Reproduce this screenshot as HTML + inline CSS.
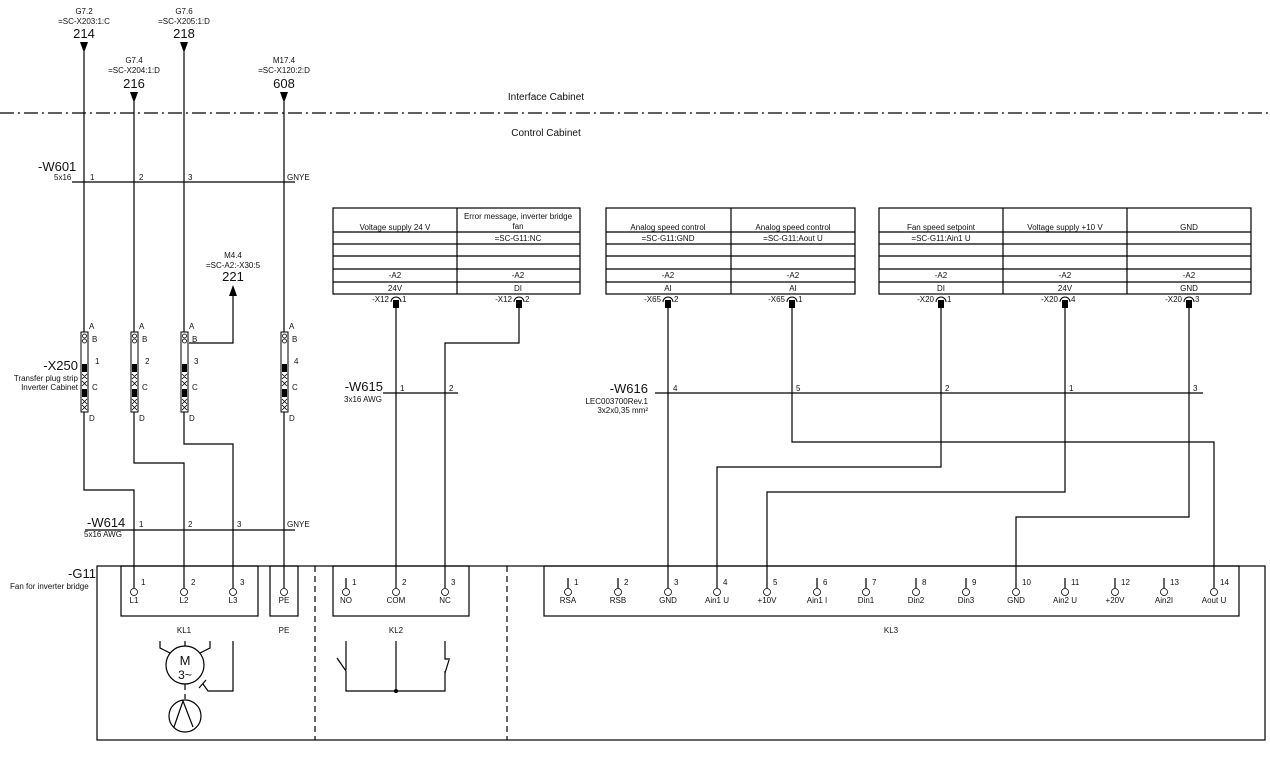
<!DOCTYPE html>
<html><head><meta charset="utf-8"><style>
html,body{margin:0;padding:0;background:#fff;}
svg{display:block;font-family:"Liberation Sans",sans-serif;}
text{fill:#111;}
.s{font-size:8px;}
.m{font-size:10px;}
.l{font-size:13px;}
</style></head><body>
<svg width="1270" height="765" viewBox="0 0 1270 765" xmlns="http://www.w3.org/2000/svg">
<g stroke="#000" stroke-width="1.2" fill="none">
<line x1="0" y1="113" x2="1270" y2="113" stroke-dasharray="14,4,2,4"/>
<polyline points="84,52 84,490 134,490 134,588"/>
<polyline points="134,102 134,463 184,463 184,588"/>
<polyline points="184,52 184,444 233,444 233,588"/>
<line x1="284" y1="102" x2="284" y2="588"/>
<polyline points="189,343 233,343 233,290"/>
<line x1="72" y1="182" x2="295" y2="182"/>
<line x1="85" y1="530" x2="295" y2="530"/>
<line x1="383" y1="393" x2="458" y2="393"/>
<line x1="655" y1="393" x2="1203" y2="393"/>
<line x1="396" y1="305" x2="396" y2="588"/>
<polyline points="519,305 519,343 445,343 445,588"/>
<line x1="668" y1="305" x2="668" y2="588"/>
<polyline points="792,305 792,442 1214,442 1214,588"/>
<polyline points="941,305 941,467 717,467 717,588"/>
<polyline points="1065,305 1065,492 767,492 767,588"/>
<polyline points="1189,305 1189,517 1016,517 1016,588"/>
<rect x="333" y="208" width="247" height="86"/>
<line x1="457" y1="208" x2="457" y2="294"/>
<rect x="606" y="208" width="249" height="86"/>
<line x1="731" y1="208" x2="731" y2="294"/>
<rect x="879" y="208" width="372" height="86"/>
<line x1="1003" y1="208" x2="1003" y2="294"/>
<line x1="1127" y1="208" x2="1127" y2="294"/>
<g>
<line x1="333" y1="232" x2="580" y2="232"/><line x1="333" y1="244" x2="580" y2="244"/><line x1="333" y1="256" x2="580" y2="256"/><line x1="333" y1="269" x2="580" y2="269"/><line x1="333" y1="282" x2="580" y2="282"/>
<line x1="606" y1="232" x2="855" y2="232"/><line x1="606" y1="244" x2="855" y2="244"/><line x1="606" y1="256" x2="855" y2="256"/><line x1="606" y1="269" x2="855" y2="269"/><line x1="606" y1="282" x2="855" y2="282"/>
<line x1="879" y1="232" x2="1251" y2="232"/><line x1="879" y1="244" x2="1251" y2="244"/><line x1="879" y1="256" x2="1251" y2="256"/><line x1="879" y1="269" x2="1251" y2="269"/><line x1="879" y1="282" x2="1251" y2="282"/>
</g>
<rect x="97" y="566" width="1168" height="174"/>
<rect x="121" y="566" width="137" height="50"/>
<rect x="270" y="566" width="28" height="50"/>
<rect x="333" y="566" width="136" height="50"/>
<rect x="544" y="566" width="695" height="50"/>
<line x1="315" y1="566" x2="315" y2="740" stroke-dasharray="6,4"/>
<line x1="507" y1="566" x2="507" y2="740" stroke-dasharray="6,4"/>
<line x1="346" y1="578" x2="346" y2="588"/>
<line x1="568" y1="578" x2="568" y2="588"/><line x1="618" y1="578" x2="618" y2="588"/>
<line x1="817" y1="578" x2="817" y2="588"/><line x1="866" y1="578" x2="866" y2="588"/>
<line x1="916" y1="578" x2="916" y2="588"/><line x1="966" y1="578" x2="966" y2="588"/>
<line x1="1065" y1="578" x2="1065" y2="588"/><line x1="1115" y1="578" x2="1115" y2="588"/>
<line x1="1164" y1="578" x2="1164" y2="588"/>
<circle cx="185" cy="665" r="19"/>
<line x1="185" y1="641" x2="185" y2="646"/>
<polyline points="160,641 160,648 170,653"/>
<polyline points="210,641 210,648 200,653"/>
<line x1="185" y1="684" x2="185" y2="690" />
<line x1="185" y1="694" x2="185" y2="699"/>
<circle cx="185" cy="716" r="16"/>
<polyline points="174,727 183,701 193,727"/>
<polyline points="233,641 233,691 208,691 203,684"/>
<line x1="199" y1="688" x2="206" y2="680"/>
<polyline points="346,641 346,670"/>
<line x1="337" y1="658" x2="346" y2="671"/>
<polyline points="346,671 346,691 445,691 445,671"/>
<line x1="396" y1="641" x2="396" y2="691"/>
<polyline points="445,641 445,659 450,659"/>
<line x1="449" y1="660" x2="445" y2="673"/>
</g>
<circle cx="396" cy="691" r="2" fill="#000"/>
<g fill="#000">
<polygon points="80,42 88,42 84,53"/>
<polygon points="130,92 138,92 134,103"/>
<polygon points="180,42 188,42 184,53"/>
<polygon points="280,92 288,92 284,103"/>
<polygon points="229,296 237,296 233,285"/>
</g>
<g stroke="#000" stroke-width="1" fill="#fff">
<rect x="81" y="332" width="7" height="80"/>
<rect x="131" y="332" width="7" height="80"/>
<rect x="181" y="332" width="7" height="80"/>
<rect x="281" y="332" width="7" height="80"/>
</g>
<g stroke="#000" stroke-width="0.8" fill="none">
<circle cx="84.5" cy="336" r="2"/><circle cx="84.5" cy="341" r="2"/>
<circle cx="134.5" cy="336" r="2"/><circle cx="134.5" cy="341" r="2"/>
<circle cx="184.5" cy="336" r="2"/><circle cx="184.5" cy="341" r="2"/>
<circle cx="284.5" cy="336" r="2"/><circle cx="284.5" cy="341" r="2"/>
<path d="M82,374 l5,5 M87,374 l-5,5 M82,381 l5,5 M87,381 l-5,5 M82,399 l5,5 M87,399 l-5,5 M82,405 l5,5 M87,405 l-5,5"/>
<path d="M132,374 l5,5 M137,374 l-5,5 M132,381 l5,5 M137,381 l-5,5 M132,399 l5,5 M137,399 l-5,5 M132,405 l5,5 M137,405 l-5,5"/>
<path d="M182,374 l5,5 M187,374 l-5,5 M182,381 l5,5 M187,381 l-5,5 M182,399 l5,5 M187,399 l-5,5 M182,405 l5,5 M187,405 l-5,5"/>
<path d="M282,374 l5,5 M287,374 l-5,5 M282,381 l5,5 M287,381 l-5,5 M282,399 l5,5 M287,399 l-5,5 M282,405 l5,5 M287,405 l-5,5"/>
</g>
<g fill="#000">
<rect x="82" y="364" width="5" height="8"/><rect x="82" y="389" width="5" height="8"/>
<rect x="132" y="364" width="5" height="8"/><rect x="132" y="389" width="5" height="8"/>
<rect x="182" y="364" width="5" height="8"/><rect x="182" y="389" width="5" height="8"/>
<rect x="282" y="364" width="5" height="8"/><rect x="282" y="389" width="5" height="8"/>
</g>
<g fill="#000">
<rect x="393" y="300" width="6" height="8"/><rect x="516" y="300" width="6" height="8"/>
<rect x="665" y="300" width="6" height="8"/><rect x="789" y="300" width="6" height="8"/>
<rect x="938" y="300" width="6" height="8"/><rect x="1062" y="300" width="6" height="8"/><rect x="1186" y="300" width="6" height="8"/>
</g>
<g stroke="#000" stroke-width="1" fill="none">
<path d="M391,302 a5,5 0 0 1 10,0"/><path d="M514,302 a5,5 0 0 1 10,0"/>
<path d="M663,302 a5,5 0 0 1 10,0"/><path d="M787,302 a5,5 0 0 1 10,0"/>
<path d="M936,302 a5,5 0 0 1 10,0"/><path d="M1060,302 a5,5 0 0 1 10,0"/><path d="M1184,302 a5,5 0 0 1 10,0"/>
</g>
<g stroke="#000" stroke-width="0.8" fill="#fff">
<circle cx="134" cy="592" r="3.5"/><circle cx="184" cy="592" r="3.5"/><circle cx="233" cy="592" r="3.5"/><circle cx="284" cy="592" r="3.5"/>
<circle cx="346" cy="592" r="3.5"/><circle cx="396" cy="592" r="3.5"/><circle cx="445" cy="592" r="3.5"/>
<circle cx="568" cy="592" r="3.5"/><circle cx="618" cy="592" r="3.5"/><circle cx="668" cy="592" r="3.5"/><circle cx="717" cy="592" r="3.5"/><circle cx="767" cy="592" r="3.5"/><circle cx="817" cy="592" r="3.5"/><circle cx="866" cy="592" r="3.5"/><circle cx="916" cy="592" r="3.5"/><circle cx="966" cy="592" r="3.5"/><circle cx="1016" cy="592" r="3.5"/><circle cx="1065" cy="592" r="3.5"/><circle cx="1115" cy="592" r="3.5"/><circle cx="1164" cy="592" r="3.5"/><circle cx="1214" cy="592" r="3.5"/>
</g>
<g class="s" text-anchor="middle">
<text x="84" y="14">G7.2</text><text x="84" y="24">=SC-X203:1:C</text>
<text x="184" y="14">G7.6</text><text x="184" y="24">=SC-X205:1:D</text>
<text x="134" y="63">G7.4</text><text x="134" y="73">=SC-X204:1:D</text>
<text x="284" y="63">M17.4</text><text x="284" y="73">=SC-X120:2:D</text>
<text x="233" y="258">M4.4</text><text x="233" y="268">=SC-A2:-X30:5</text>
</g>
<g class="l" text-anchor="middle">
<text x="84" y="38">214</text><text x="184" y="38">218</text><text x="134" y="88">216</text><text x="284" y="88">608</text><text x="233" y="281">221</text>
</g>
<g class="m" text-anchor="middle">
<text x="546" y="100">Interface Cabinet</text>
<text x="546" y="136">Control Cabinet</text>
</g>
<text class="l" x="38" y="171">-W601</text>
<text class="s" x="54" y="180">5x16</text>
<g class="s"><text x="90" y="180">1</text><text x="139" y="180">2</text><text x="188" y="180">3</text><text x="287" y="180">GNYE</text></g>
<text class="l" x="87" y="527">-W614</text>
<text class="s" x="84" y="537">5x16 AWG</text>
<g class="s"><text x="139" y="527">1</text><text x="188" y="527">2</text><text x="237" y="527">3</text><text x="287" y="527">GNYE</text></g>
<text class="l" x="78" y="370" text-anchor="end">-X250</text>
<text class="s" x="78" y="381" text-anchor="end">Transfer plug strip</text>
<text class="s" x="78" y="390" text-anchor="end">Inverter Cabinet</text>
<g class="s">
<text x="89" y="329">A</text><text x="92" y="342">B</text><text x="95" y="364">1</text><text x="92" y="390">C</text><text x="89" y="421">D</text>
<text x="139" y="329">A</text><text x="142" y="342">B</text><text x="145" y="364">2</text><text x="142" y="390">C</text><text x="139" y="421">D</text>
<text x="189" y="329">A</text><text x="192" y="342">B</text><text x="194" y="364">3</text><text x="192" y="390">C</text><text x="189" y="421">D</text>
<text x="289" y="329">A</text><text x="292" y="342">B</text><text x="294" y="364">4</text><text x="292" y="390">C</text><text x="289" y="421">D</text>
</g>
<text class="l" x="383" y="391" text-anchor="end">-W615</text>
<text class="s" x="344" y="402">3x16 AWG</text>
<g class="s"><text x="400" y="391">1</text><text x="449" y="391">2</text></g>
<text class="l" x="648" y="393" text-anchor="end">-W616</text>
<text class="s" x="648" y="404" text-anchor="end">LEC003700Rev.1</text>
<text class="s" x="648" y="413" text-anchor="end">3x2x0,35 mm²</text>
<g class="s"><text x="673" y="391">4</text><text x="796" y="391">5</text><text x="945" y="391">2</text><text x="1069" y="391">1</text><text x="1193" y="391">3</text></g>
<g class="s" text-anchor="middle">
<text x="395" y="230">Voltage supply 24 V</text>
<text x="518" y="219">Error message, inverter bridge</text><text x="518" y="229">fan</text><text x="518" y="241">=SC-G11:NC</text>
<text x="395" y="278">-A2</text><text x="518" y="278">-A2</text><text x="395" y="291">24V</text><text x="518" y="291">DI</text>
<text x="668" y="230">Analog speed control</text><text x="668" y="241">=SC-G11:GND</text>
<text x="793" y="230">Analog speed control</text><text x="793" y="241">=SC-G11:Aout U</text>
<text x="668" y="278">-A2</text><text x="793" y="278">-A2</text><text x="668" y="291">AI</text><text x="793" y="291">AI</text>
<text x="941" y="230">Fan speed setpoint</text><text x="941" y="241">=SC-G11:Ain1 U</text>
<text x="1065" y="230">Voltage supply +10 V</text><text x="1189" y="230">GND</text>
<text x="941" y="278">-A2</text><text x="1065" y="278">-A2</text><text x="1189" y="278">-A2</text>
<text x="941" y="291">DI</text><text x="1065" y="291">24V</text><text x="1189" y="291">GND</text>
</g>
<g class="s" text-anchor="end">
<text x="389" y="302">-X12</text><text x="512" y="302">-X12</text>
<text x="661" y="302">-X65</text><text x="785" y="302">-X65</text>
<text x="934" y="302">-X20</text><text x="1058" y="302">-X20</text><text x="1182" y="302">-X20</text>
</g>
<g class="s">
<text x="402" y="302">1</text><text x="525" y="302">2</text>
<text x="674" y="302">2</text><text x="798" y="302">1</text>
<text x="947" y="302">1</text><text x="1071" y="302">4</text><text x="1195" y="302">3</text>
</g>
<text class="l" x="68" y="578">-G11</text>
<text class="s" x="10" y="589">Fan for inverter bridge</text>
<g class="s">
<text x="141" y="585">1</text><text x="191" y="585">2</text><text x="240" y="585">3</text>
<text x="352" y="585">1</text><text x="402" y="585">2</text><text x="451" y="585">3</text>
<text x="574" y="585">1</text><text x="624" y="585">2</text><text x="674" y="585">3</text><text x="723" y="585">4</text><text x="773" y="585">5</text><text x="823" y="585">6</text><text x="872" y="585">7</text><text x="922" y="585">8</text><text x="972" y="585">9</text><text x="1022" y="585">10</text><text x="1071" y="585">11</text><text x="1121" y="585">12</text><text x="1170" y="585">13</text><text x="1220" y="585">14</text>
</g>
<g class="s" text-anchor="middle">
<text x="134" y="603">L1</text><text x="184" y="603">L2</text><text x="233" y="603">L3</text><text x="284" y="603">PE</text>
<text x="346" y="603">NO</text><text x="396" y="603">COM</text><text x="445" y="603">NC</text>
<text x="568" y="603">RSA</text><text x="618" y="603">RSB</text><text x="668" y="603">GND</text><text x="717" y="603">Ain1 U</text><text x="767" y="603">+10V</text><text x="817" y="603">Ain1 I</text><text x="866" y="603">Din1</text><text x="916" y="603">Din2</text><text x="966" y="603">Din3</text><text x="1016" y="603">GND</text><text x="1065" y="603">Ain2 U</text><text x="1115" y="603">+20V</text><text x="1164" y="603">Ain2I</text><text x="1214" y="603">Aout U</text>
<text x="184" y="633">KL1</text><text x="284" y="633">PE</text><text x="396" y="633">KL2</text><text x="891" y="633">KL3</text>
</g>
<text x="185" y="665" font-size="13" text-anchor="middle">M</text>
<text x="185" y="679" font-size="12" text-anchor="middle">3~</text>
</svg>
</body></html>
